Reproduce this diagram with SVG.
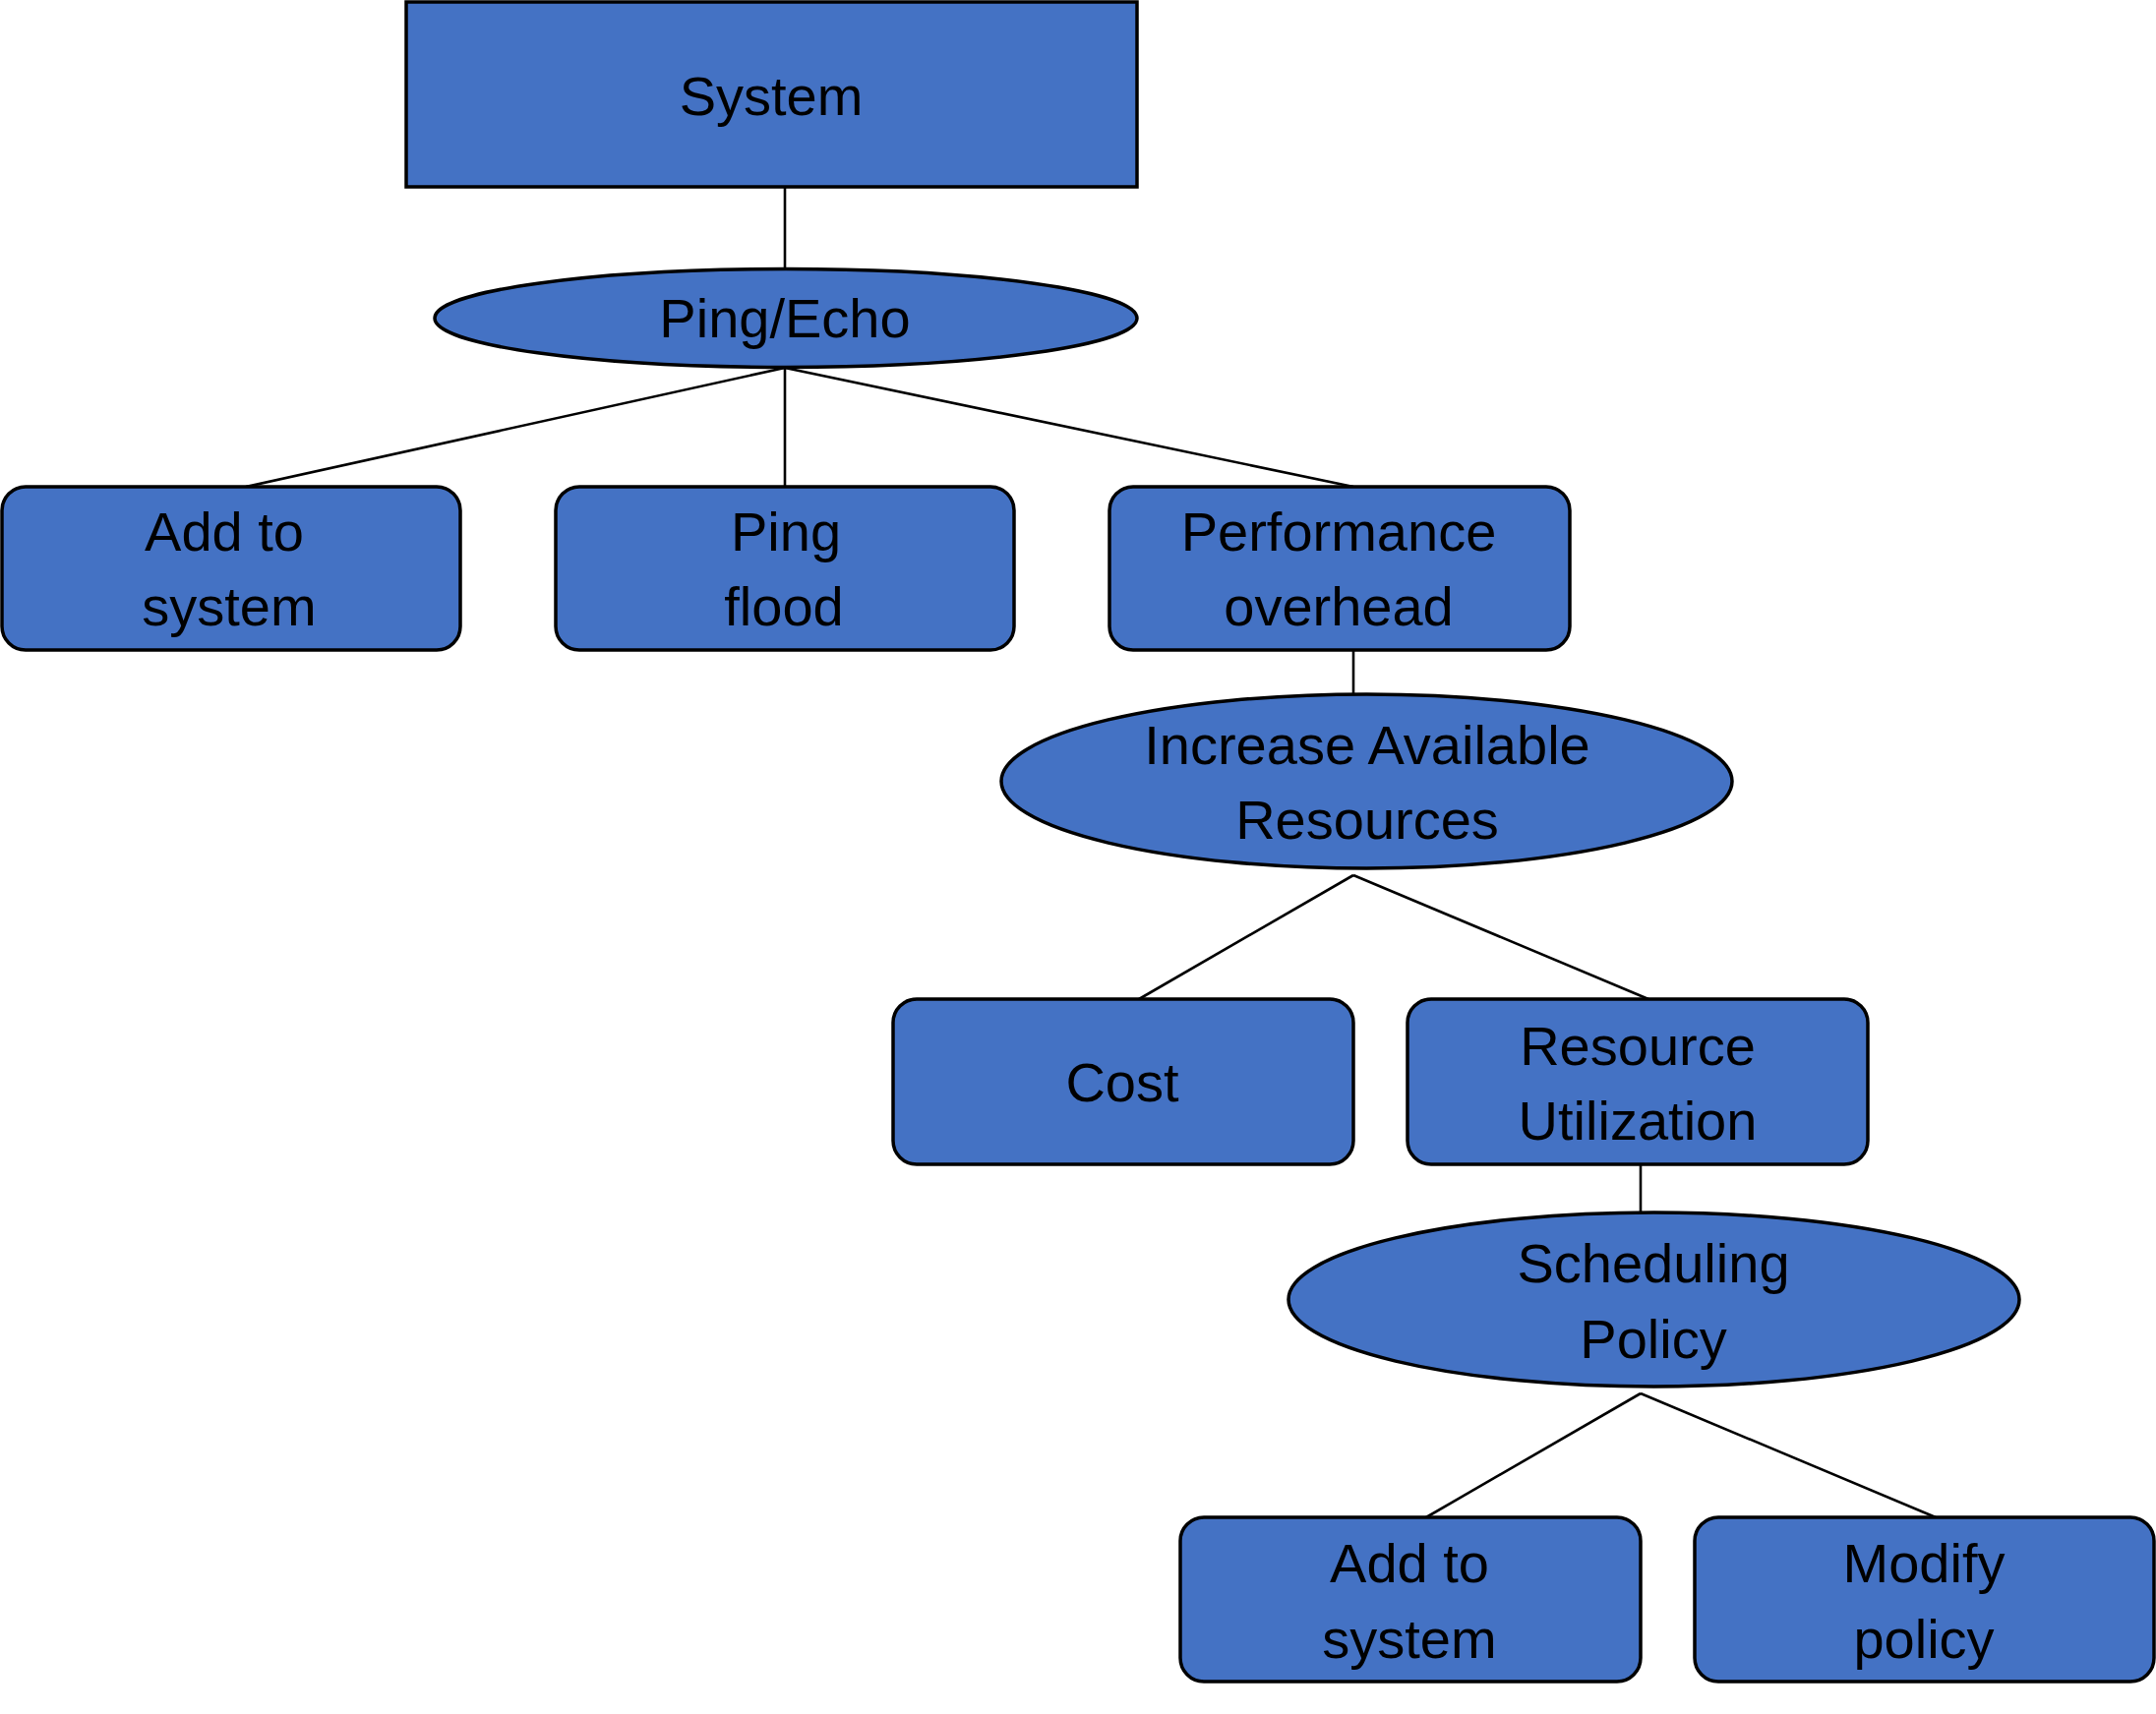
<svg xmlns="http://www.w3.org/2000/svg" width="2192" height="1743" viewBox="0 0 2192 1743">
<style>
.n{fill:#4472C4;stroke:#000;stroke-width:3.5}
.t{font-family:"Liberation Sans",Arial,sans-serif;font-size:56px;fill:#000;text-anchor:middle}
.c line{stroke:#000;stroke-width:2.6}
</style>
<rect width="2192" height="1743" fill="#fff"/>
<g class="c" id="connectors">
<line x1="798" y1="190" x2="798" y2="274"/>
<line x1="798" y1="374" x2="250" y2="495"/>
<line x1="798" y1="374" x2="798" y2="495"/>
<line x1="798" y1="374" x2="1376" y2="495"/>
<line x1="1376" y1="658" x2="1376" y2="706"/>
<line x1="1376" y1="890" x2="1158" y2="1016"/>
<line x1="1376" y1="890" x2="1676" y2="1016"/>
<line x1="1668" y1="1184" x2="1668" y2="1233"/>
<line x1="1668" y1="1417" x2="1450" y2="1543"/>
<line x1="1668" y1="1417" x2="1968" y2="1543"/>
</g>
<g id="system"><rect class="n" x="413" y="2" width="743" height="188"/><text class="t" x="784" y="117">System</text></g>
<g id="pingecho"><ellipse class="n" cx="799" cy="323.5" rx="357" ry="50"/><text class="t" x="798" y="343">Ping/Echo</text></g>
<g id="addto1"><rect class="n" x="2" y="495" width="466" height="166" rx="24"/><text class="t" x="228" y="560">Add to</text><text class="t" x="233" y="636">system</text></g>
<g id="pingflood"><rect class="n" x="565" y="495" width="466" height="166" rx="24"/><text class="t" x="799" y="560">Ping</text><text class="t" x="797" y="636">flood</text></g>
<g id="perf"><rect class="n" x="1128" y="495" width="468" height="166" rx="24"/><text class="t" x="1361" y="560">Performance</text><text class="t" x="1361" y="636">overhead</text></g>
<g id="increase"><ellipse class="n" cx="1389.5" cy="794.5" rx="371.5" ry="88.5"/><text class="t" x="1390" y="777">Increase Available</text><text class="t" x="1390" y="853">Resources</text></g>
<g id="cost"><rect class="n" x="908" y="1016" width="468" height="168" rx="24"/><text class="t" x="1141" y="1120">Cost</text></g>
<g id="resutil"><rect class="n" x="1431" y="1016" width="468" height="168" rx="24"/><text class="t" x="1665" y="1083">Resource</text><text class="t" x="1665" y="1159">Utilization</text></g>
<g id="sched"><ellipse class="n" cx="1681.5" cy="1321.5" rx="371.5" ry="88.5"/><text class="t" x="1681" y="1304">Scheduling</text><text class="t" x="1681" y="1381">Policy</text></g>
<g id="addto2"><rect class="n" x="1200" y="1543" width="468" height="167" rx="24"/><text class="t" x="1433" y="1609">Add to</text><text class="t" x="1433" y="1686">system</text></g>
<g id="modify"><rect class="n" x="1723" y="1543" width="467" height="167" rx="24"/><text class="t" x="1956" y="1609">Modify</text><text class="t" x="1956" y="1686">policy</text></g>
</svg>
